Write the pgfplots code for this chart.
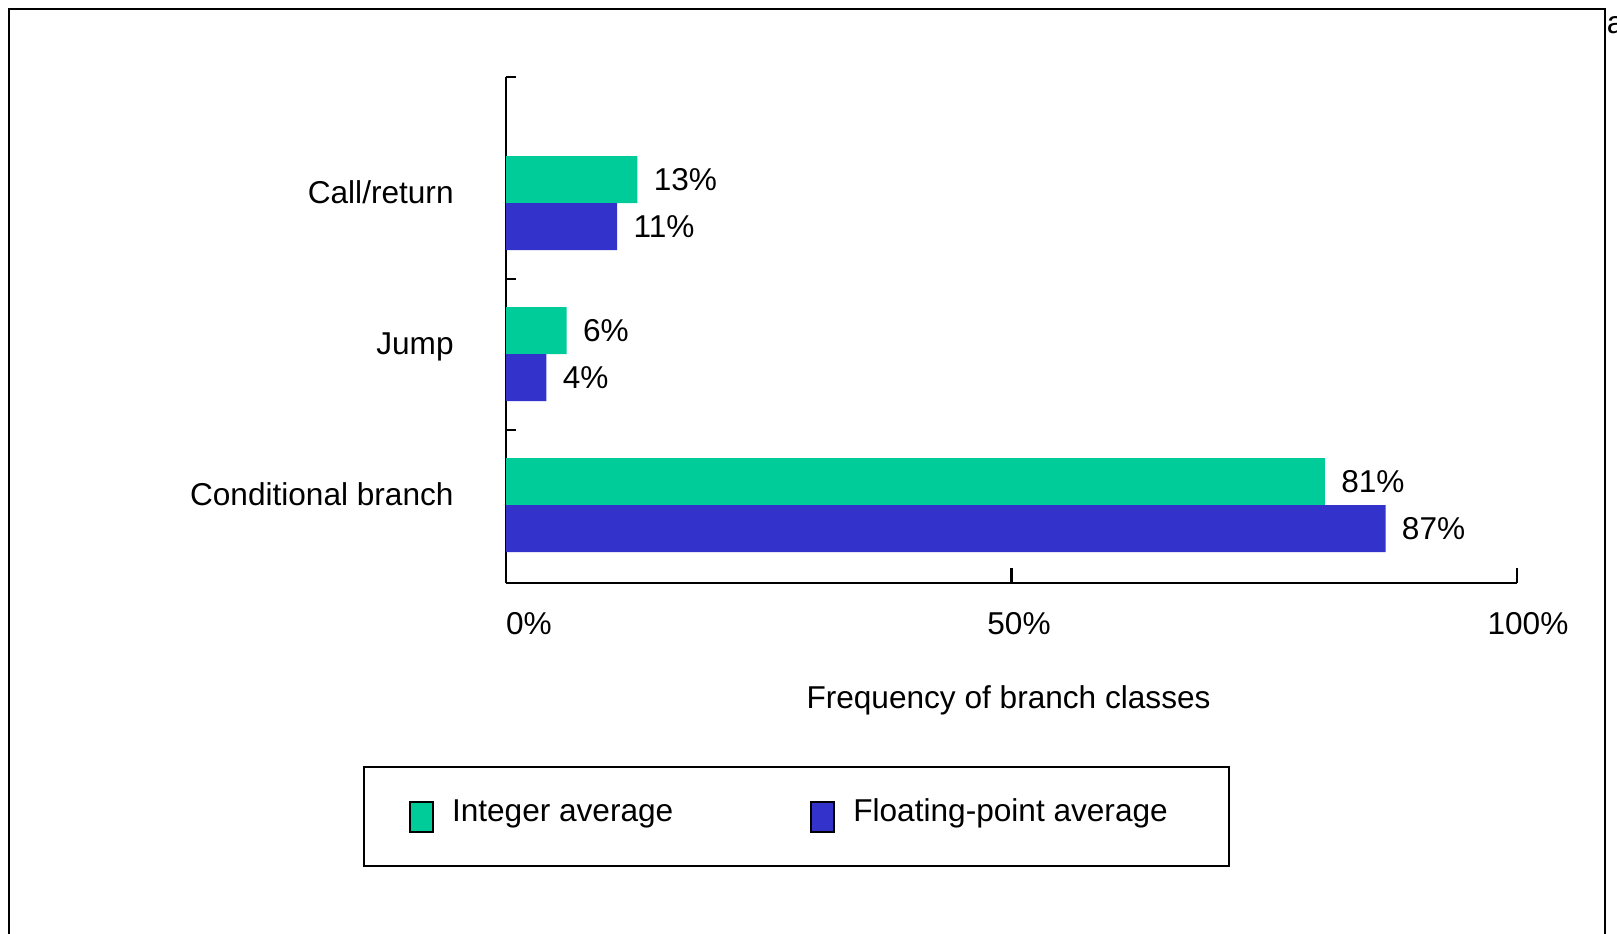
\documentclass[border=0pt]{standalone}
\usepackage{fontspec}
\setmainfont{Liberation Sans}
\usepackage{pgfplots}
\pgfplotsset{compat=1.18}
\definecolor{intgreen}{RGB}{0,204,153}
\definecolor{fpblue}{RGB}{51,51,204}
% filled square with a black rim for the legend entries
\pgfplotsset{swatch/.style={legend image code/.code={%
  \draw[##1, draw=black, line width=1pt] (0pt,-7.85pt) rectangle (11.5pt,7.1pt);}}}

\begin{document}
\fontsize{15.8}{19}\selectfont
\begin{tikzpicture}[font=\fontsize{15.8}{19}\selectfont]
\useasboundingbox (0,0) rectangle (808.5pt,-466.5pt);
% outer frame, open at the bottom
\draw[line width=1.2pt] (4.5pt,-480pt) -- (4.5pt,-4.5pt) -- (802.5pt,-4.5pt) -- (802.5pt,-480pt);
\node[anchor=base west, inner sep=0pt] at (803.2pt,-16.5pt) {a};
\begin{axis}[
  at={(253pt,-291.5pt)}, anchor=south west,
  scale only axis, width=505.5pt, height=253pt,
  xbar, bar width=23.5pt,
  xmin=0, xmax=100, ymin=-0.515, ymax=2.836,
  axis x line*=bottom, axis y line*=left,
  axis line style={-, line width=1.2pt},
  tick align=inside,
  major tick length=7.5pt, minor tick length=5pt,
  tick style={line width=1.2pt, black},
  xtick={0,50,100},
  xticklabels={\hspace*{23pt}0\%,\hspace*{7.5pt}50\%,\hspace*{11pt}100\%},
  xticklabel style={anchor=base, inner sep=0pt, yshift=-25.5pt},
  ytick={0,1,2},
  yticklabels={Conditional branch,Jump,Call/return},
  major y tick style={draw=none},
  minor ytick={0.5,1.5,2.835},
  yticklabel style={anchor=base east, inner sep=0pt, xshift=-26pt, yshift=0pt},
  xlabel={Frequency of branch classes},
  xlabel style={at={(axis description cs:0.5,0)}, anchor=center, xshift=-1.5pt, yshift=-58.5pt},
  nodes near coords={\pgfmathprintnumber{\pgfplotspointmeta}\%},
  every node near coord/.append style={anchor=west, inner sep=0pt, xshift=8pt, black},
  /pgf/number format/assume math mode=true,
  clip=false,
  legend columns=2,
  legend style={at={(0,0)}, anchor=north west, xshift=-71.5pt, yshift=-91.5pt,
    draw=black, line width=1pt, inner xsep=22.5pt, inner ysep=15.9pt,
    nodes={inner sep=0pt, text depth=6.2pt},
    /tikz/every odd column/.append style={column sep=9pt},
    /tikz/every even column/.append style={column sep=68.5pt}},
]
\addplot[fill=intgreen, draw=none, bar shift=11.75pt, swatch]
  coordinates {(81,0) (6,1) (13,2)};
\addplot[fill=fpblue, draw=none, bar shift=-11.75pt, swatch]
  coordinates {(87,0) (4,1) (11,2)};
\legend{Integer average,Floating-point average\hspace*{8.3pt}}
\end{axis}
\end{tikzpicture}
\end{document}
